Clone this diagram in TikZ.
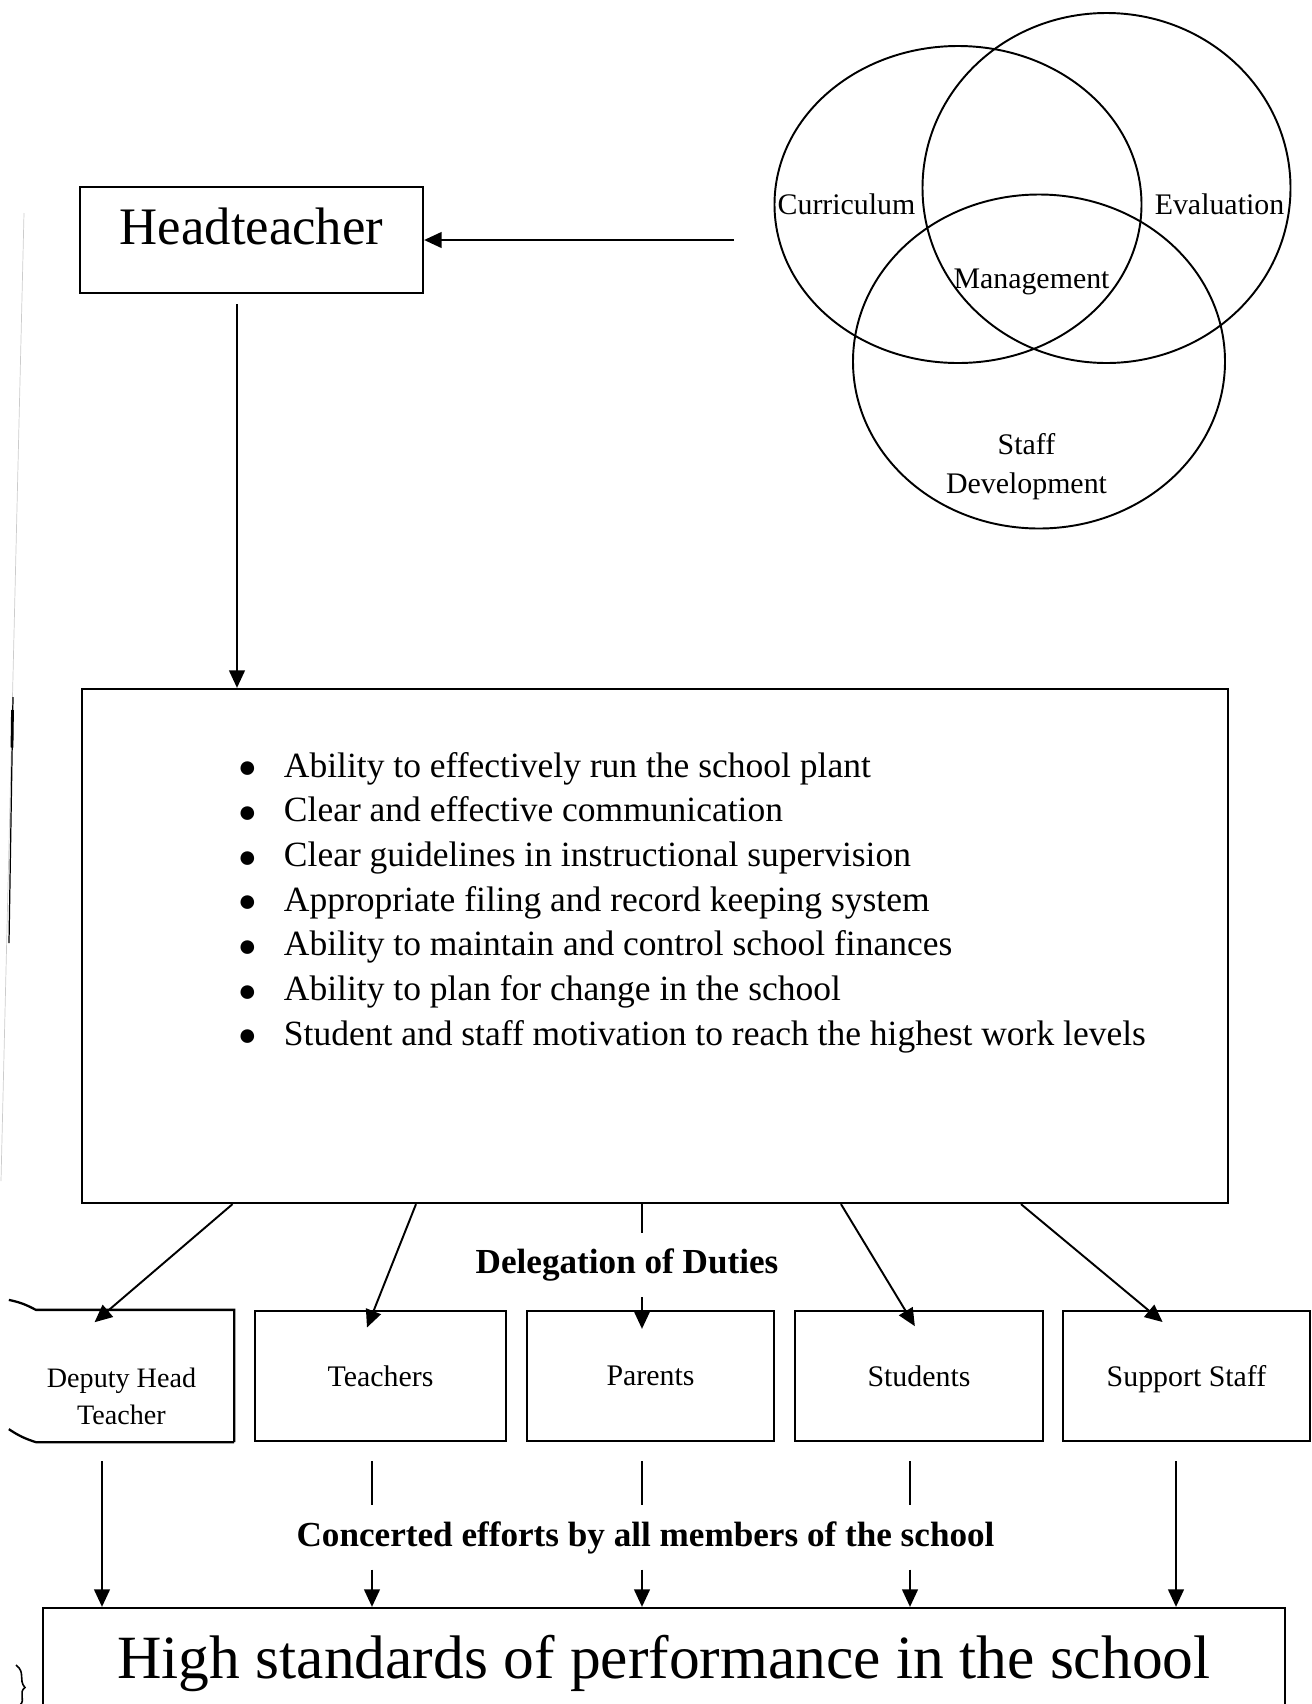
\documentclass[tikz,border=0pt]{standalone}
\usepackage{fontspec}
\setmainfont{Liberation Serif}
\usetikzlibrary{arrows.meta,positioning}

\newcommand\blob{\raisebox{-0.4pt}{\fontsize{18}{18}\selectfont ●}}

\begin{document}
\begin{tikzpicture}[line width=1.1pt, >={Triangle[length=10pt,width=9pt]},
  box/.style={draw,rectangle,inner sep=0pt,line width=1.3pt},
  member/.style={box,minimum height=2.6cm,text depth=0pt,font=\fontsize{17}{21}\selectfont},
  venn/.style={inner sep=0pt,align=center,font=\fontsize{17}{22.4}\selectfont},
  item/.style={anchor=base west,inner sep=0pt,font=\fontsize{20.2}{24}\selectfont},
  caption/.style={inner sep=0.3cm,font=\bfseries\fontsize{20}{24}\selectfont}]

\useasboundingbox (0,0) rectangle (26.24,-34.08);
\clip (0,0) rectangle (26.24,-34.08);

% page edge marks
\draw[gray!40, line width=0.4pt] (0.48,-4.26) -- (0.02,-23.62);
\draw[line width=0.7pt] (0.26,-13.94) -- (0.18,-18.86);
\draw[line width=1.6pt] (0.25,-14.2) -- (0.24,-14.95);
\draw[line width=0.9pt] (0.32,-33.3) .. controls (0.52,-33.45) and (0.36,-33.6) .. (0.5,-33.75) .. controls (0.36,-33.85) and (0.52,-34.0) .. (0.4,-34.1);

% the three overlapping areas
\coordinate (cur) at (19.16,-4.09);
\coordinate (eva) at (22.13,-3.76);
\coordinate (stf) at (20.78,-7.23);
\draw (cur) ellipse [x radius=3.67, y radius=3.17];
\draw (eva) ellipse [x radius=3.68, y radius=3.50];
\draw (stf) ellipse [x radius=3.72, y radius=3.34];
\node[venn] (curlbl) at (16.93,-4.08) {Curriculum};
\node[venn] (evalbl) at (24.39,-4.08) {Evaluation};
\node[venn] (mgtlbl) at (20.63,-5.64) {Management};
\node[venn] (stflbl) at (20.53,-9.33) {Staff\\Development};

% headteacher
\node[box, minimum width=6.86cm, minimum height=2.12cm, text depth=0.56cm, font=\fontsize{30}{36}\selectfont] (head) at (5.03,-4.8) {Headteacher};
\coordinate (vtail) at (14.68,-4.8);
\draw[->] (vtail) -- (head.east);

% duties of the head
\node[box, minimum width=22.92cm, minimum height=10.28cm] (duties) at (13.1,-18.92) {};
\draw[->] ([xshift=-0.29cm,yshift=-0.2cm]head.south) -- ([xshift=-0.29cm]head.south |- duties.north);
\foreach \txt [count=\i from 0] in {Ability to effectively run the school plant,
    Clear and effective communication,
    Clear guidelines in instructional supervision,
    Appropriate filing and record keeping system,
    Ability to maintain and control school finances,
    Ability to plan for change in the school,
    Student and staff motivation to reach the highest work levels}
  \node[item] (pt\i) at (4.74,{-15.54-0.894*\i}) {\makebox[0.92cm][l]{\blob}\txt};

% members of the school
\node[member, draw=none, minimum width=4.46cm] (dep) at (2.43,-27.52) {};
\node[member, minimum width=5.02cm] (tch) at (7.61,-27.52) {Teachers};
\node[member, minimum width=4.94cm] (par) at (13.01,-27.52) {Parents};
\node[member, minimum width=4.96cm] (stu) at (18.38,-27.52) {Students};
\node[member, minimum width=4.94cm] (sup) at (23.73,-27.52) {Support Staff};
\draw[line width=1.3pt] (dep.south east) -- (dep.north east) -- ([xshift=0.54cm]dep.north west) to[bend right=8] ([yshift=0.2cm]dep.north west);
\draw[line width=1.3pt] (dep.south east) -- ([xshift=0.54cm]dep.south west) to[bend left=8] ([yshift=0.26cm]dep.south west);
\node[inner sep=0pt, anchor=north, align=center, font=\fontsize{16}{21}\selectfont] (deplbl) at ([yshift=-1.15cm]dep.north) {Deputy Head\\Teacher};

\node[caption] (deleg) at (12.54,-25.3) {Delegation of Duties};
\draw[->, shorten >=-0.38cm] ([xshift=-8.45cm]duties.south) -- ([xshift=-0.25cm]dep.north);
\draw[->, shorten >=-0.38cm] ([xshift=-4.78cm]duties.south) -- ([xshift=-0.13cm]tch.north);
\draw ([xshift=-0.26cm]duties.south) -- ([xshift=-0.26cm]duties.south |- deleg.north);
\draw[->, shorten >=-0.38cm] ([xshift=-0.17cm]par.north |- deleg.south) -- ([xshift=-0.17cm]par.north);
\draw[->, shorten >=-0.38cm] ([xshift=3.72cm]duties.south) -- ([xshift=-0.28cm]stu.north);
\draw[->, shorten >=-0.38cm] ([xshift=7.32cm]duties.south) -- ([xshift=-0.77cm]sup.north);

% result
\node[box, minimum width=24.83cm, minimum height=2.2cm, font=\fontsize{35}{42}\selectfont] (perf) at (13.28,-33.26) {High standards of performance in the school};
\node[caption] (conc) at (12.91,-30.75) {Concerted efforts by all members of the school};
\draw[->, shorten <=0.38cm] ([xshift=-0.39cm]dep.south) -- ([xshift=-0.39cm]dep.south |- perf.north);
\draw[shorten <=0.38cm] ([xshift=-0.17cm]tch.south) -- ([xshift=-0.17cm]tch.south |- conc.north);
\draw[->] ([xshift=-0.17cm]tch.south |- conc.south) -- ([xshift=-0.17cm]tch.south |- perf.north);
\draw[shorten <=0.38cm] ([xshift=-0.17cm]par.south) -- ([xshift=-0.17cm]par.south |- conc.north);
\draw[->] ([xshift=-0.17cm]par.south |- conc.south) -- ([xshift=-0.17cm]par.south |- perf.north);
\draw[shorten <=0.38cm] ([xshift=-0.18cm]stu.south) -- ([xshift=-0.18cm]stu.south |- conc.north);
\draw[->] ([xshift=-0.18cm]stu.south |- conc.south) -- ([xshift=-0.18cm]stu.south |- perf.north);
\draw[->, shorten <=0.38cm] ([xshift=-0.21cm]sup.south) -- ([xshift=-0.21cm]sup.south |- perf.north);
\end{tikzpicture}
\end{document}
